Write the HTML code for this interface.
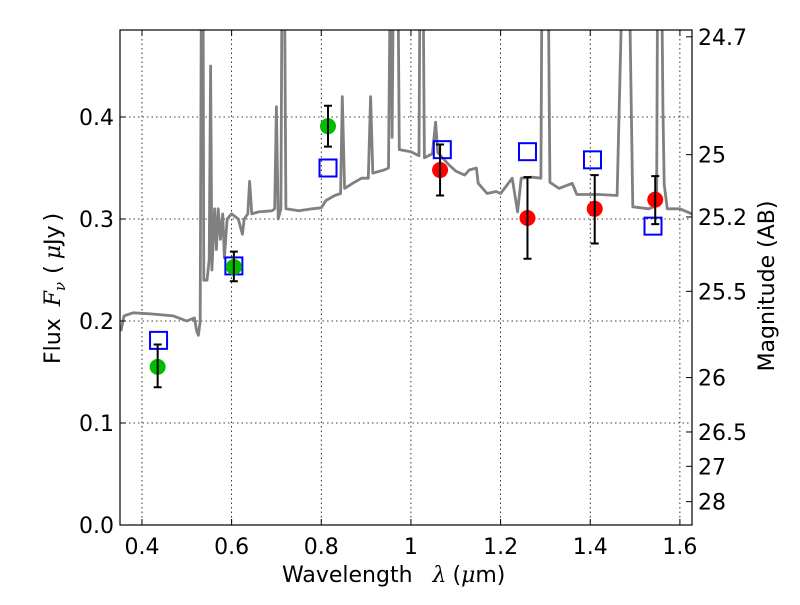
<!DOCTYPE html>
<html><head><meta charset="utf-8"><style>
body{margin:0;background:#fff}
svg text{font-family:"DejaVu Sans","Liberation Sans",sans-serif;fill:#000}
.m{font-family:"DejaVu Serif","Liberation Serif",serif;font-style:italic}
</style></head><body>
<svg id="chart" width="800" height="600" viewBox="0 0 800 600" xmlns="http://www.w3.org/2000/svg">
<defs><clipPath id="pc"><rect x="120" y="30" width="572" height="495"/></clipPath></defs>
<rect x="0" y="0" width="800" height="600" fill="#fff"/>
<g id="grid"></g>
<g id="spec" clip-path="url(#pc)"></g>
<g id="marks" clip-path="url(#pc)"></g>
<rect x="120" y="30" width="572" height="495" fill="none" stroke="#000" stroke-width="1.2"/>
<g id="axes"></g>
<text x="282" y="582" font-size="22">Wavelength<tspan class="m" dx="20">λ</tspan><tspan dx="6">(</tspan><tspan class="m">μ</tspan>m)</text>
<text transform="translate(60,364) rotate(-90)" font-size="22">Flux<tspan class="m" dx="12">F</tspan><tspan class="m" font-size="15" dy="5">ν</tspan><tspan dy="-5" dx="8">(</tspan><tspan class="m" dx="6">μ</tspan>Jy<tspan dx="4">)</tspan></text>
<text transform="translate(774,286) rotate(-90)" font-size="22" text-anchor="middle">Magnitude (AB)</text>
</svg>
<script>
const specWave=[0.353,0.36,0.38,0.42,0.47,0.50,0.517,0.522,0.526,0.530,0.533,0.536,0.538,0.545,0.550,0.553,0.556,0.562,0.566,0.570,0.575,0.580,0.584,0.590,0.600,0.615,0.624,0.628,0.636,0.640,0.645,0.66,0.69,0.696,0.700,0.704,0.710,0.713,0.717,0.721,0.75,0.78,0.80,0.81,0.83,0.843,0.847,0.852,0.87,0.89,0.905,0.910,0.915,0.94,0.950,0.955,0.958,0.962,0.966,0.970,0.974,1.0,1.018,1.021,1.026,1.030,1.048,1.055,1.060,1.085,1.10,1.12,1.13,1.146,1.15,1.17,1.19,1.200,1.226,1.238,1.246,1.27,1.290,1.293,1.305,1.310,1.33,1.36,1.37,1.42,1.46,1.475,1.485,1.495,1.53,1.548,1.551,1.558,1.562,1.565,1.572,1.60,1.627];
const specFlux=[0.19,0.205,0.208,0.207,0.205,0.200,0.203,0.19,0.186,0.2,0.6,0.6,0.24,0.24,0.26,0.45,0.25,0.31,0.27,0.31,0.28,0.305,0.262,0.30,0.305,0.30,0.285,0.30,0.305,0.337,0.305,0.307,0.308,0.31,0.41,0.30,0.31,0.6,0.6,0.31,0.308,0.31,0.311,0.318,0.323,0.325,0.42,0.33,0.335,0.34,0.34,0.42,0.345,0.348,0.35,0.6,0.38,0.6,0.6,0.6,0.368,0.366,0.362,0.6,0.6,0.36,0.364,0.395,0.365,0.353,0.347,0.343,0.348,0.35,0.335,0.325,0.327,0.325,0.34,0.307,0.34,0.341,0.340,0.6,0.6,0.336,0.33,0.335,0.324,0.324,0.323,0.6,0.6,0.312,0.31,0.313,0.6,0.6,0.41,0.334,0.31,0.31,0.305];
const greenWave=[0.435,0.605,0.815];
const greenFlux=[0.155,0.253,0.391];
const greenLo=[0.135,0.239,0.371];
const greenHi=[0.177,0.268,0.411];
const redWave=[1.065,1.26,1.41,1.545];
const redFlux=[0.348,0.301,0.310,0.319];
const redLo=[0.323,0.261,0.276,0.295];
const redHi=[0.373,0.341,0.343,0.342];
const modelWave=[0.437,0.605,0.815,1.07,1.26,1.405,1.54];
const modelFlux=[0.181,0.254,0.350,0.368,0.366,0.358,0.293];
const xTicks=[0.4,0.6,0.8,1.0,1.2,1.4,1.6];
const xTickLabels=["0.4","0.6","0.8","1","1.2","1.4","1.6"];
const yTicks=[0,0.1,0.2,0.3,0.4];
const yTickLabels=["0.0","0.1","0.2","0.3","0.4"];
const magTicks=[24.7,25,25.2,25.5,26,26.5,27,28];
const magTickLabels=["24.7","25","25.2","25.5","26","26.5","27","28"];

const X0=120,X1=692,Y0=525,Y1=30,XMIN=0.351,XMAX=1.627,YMIN=0,YMAX=0.4853;
const sx=v=>X0+(v-XMIN)/(XMAX-XMIN)*(X1-X0);
const sy=v=>Y0-(v-YMIN)/(YMAX-YMIN)*(Y0-Y1);
const magToFlux=m=>Math.pow(10,(23.9-m)/2.5);
const NS="http://www.w3.org/2000/svg";
function mk(tag,attrs,parent){const e=document.createElementNS(NS,tag);for(const k in attrs)e.setAttribute(k,attrs[k]);parent.appendChild(e);return e;}
const grid=document.getElementById('grid'),spec=document.getElementById('spec'),marks=document.getElementById('marks'),axes=document.getElementById('axes');
xTicks.forEach((t,i)=>{const x=sx(t);
 let g=mk('line',{x1:x,x2:x,y1:Y1,y2:Y0,stroke:'#000','stroke-width':0.8,'stroke-dasharray':'1.5,3'},grid);
 
 let a=mk('line',{x1:x,x2:x,y1:Y0,y2:Y0-6,stroke:'#000'},axes);
 let b=mk('line',{x1:x,x2:x,y1:Y1,y2:Y1+6,stroke:'#000'},axes);
 let l=mk('text',{x:x,y:Y0+29,'font-size':22,'text-anchor':'middle'},axes);l.textContent=xTickLabels[i];
 });
yTicks.forEach((t,i)=>{const y=sy(t);
 let g=mk('line',{x1:X0,x2:X1,y1:y,y2:y,stroke:'#000','stroke-width':0.8,'stroke-dasharray':'1.5,3'},grid);
 
 let a=mk('line',{x1:X0,x2:X0+6,y1:y,y2:y,stroke:'#000'},axes);
 let l=mk('text',{x:X0-6,y:y+8,'font-size':22,'text-anchor':'end'},axes);l.textContent=yTickLabels[i];
 });
magTicks.forEach((m,i)=>{const y=sy(magToFlux(m));
 let a=mk('line',{x1:X1-6,x2:X1,y1:y,y2:y,stroke:'#000'},axes);
 let l=mk('text',{x:X1+6,y:y+8,'font-size':22},axes);l.textContent=magTickLabels[i];
 });
let d=specWave.map((w,i)=>(i?'L':'M')+sx(w).toFixed(1)+','+sy(specFlux[i]).toFixed(1)).join('');
let sp=mk('path',{d:d,fill:'none',stroke:'#808080','stroke-width':2.8,'stroke-linejoin':'round'},spec);

function err(w,lo,hi){const x=sx(w);
 let e=mk('path',{d:`M${x},${sy(lo)}V${sy(hi)}M${x-4},${sy(lo)}h8M${x-4},${sy(hi)}h8`,stroke:'#000','stroke-width':2,fill:'none'},marks);
 }
modelWave.forEach((w,i)=>{let r=mk('rect',{x:sx(w)-8.5,y:sy(modelFlux[i])-8.5,width:17,height:17,fill:'none',stroke:'#0000ff','stroke-width':2},marks);
 });
greenWave.forEach((w,i)=>{let c=mk('circle',{cx:sx(w),cy:sy(greenFlux[i]),r:8,fill:'#00bb00'},marks);
 err(w,greenLo[i],greenHi[i]);});
redWave.forEach((w,i)=>{let c=mk('circle',{cx:sx(w),cy:sy(redFlux[i]),r:8,fill:'#ff0000'},marks);
 err(w,redLo[i],redHi[i]);});
</script>
</body></html>
